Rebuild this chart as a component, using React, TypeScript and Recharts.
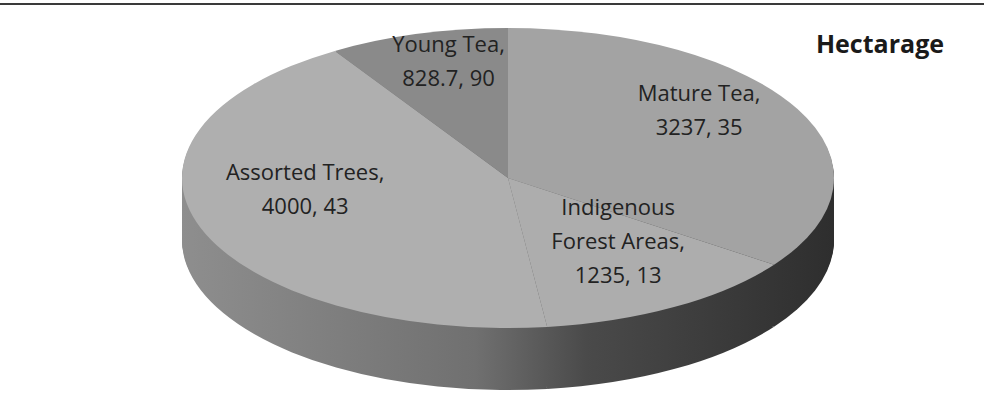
import React from 'react';
import { PieChart, Pie, Cell } from 'recharts';

// values
const categories = ['Mature Tea', 'Indigenous Forest Areas', 'Assorted Trees', 'Young Tea'];
const hectares = [3237, 1235, 4000, 828.7];
const percentText = ['35', '13', '43', '90'];
const topColors = ['#a3a3a3', '#adadad', '#afafaf', '#8a8a8a'];

const data = categories.map((name, i) => ({ name, value: hectares[i], pct: percentText[i] }));

// flattened 3D pie: draw a circle pie and squash it vertically
const S = 150 / 326;
const R = 326;
const CX = 508;
const CY = 178 / S;
const DEPTH = 62 / S;
const STEP = 3;
const layers: number[] = [];
for (let off = DEPTH; off > 0; off -= STEP) layers.push(off);

const RAD = Math.PI / 180;
const FONT = '"Open Sans", sans-serif';

function wrapName(name: string) {
  if (name.length > 15) {
    const i = name.indexOf(' ');
    return [name.slice(0, i), name.slice(i + 1) + ','];
  }
  return [name + ','];
}

const renderLabel = (p: any) => {
  const r = p.outerRadius * 0.66;
  const x = p.cx + r * Math.cos(-p.midAngle * RAD);
  const y = p.cy + r * Math.sin(-p.midAngle * RAD) - 22 / S;
  const d = data[p.index];
  const lines = [...wrapName(d.name), `${d.value}, ${d.pct}`];
  const lh = 34;
  const top = -((lines.length - 1) * lh) / 2;
  return (
    <g transform={`translate(${x},${y}) scale(1,${1 / S})`}>
      <text textAnchor="middle" fontSize={22} fill="#222" fontFamily={FONT}>
        {lines.map((l, i) => (
          <tspan key={i} x={0} y={top + i * lh} dy="0.35em">{l}</tspan>
        ))}
      </text>
    </g>
  );
};

export default function App() {
  return (
    <div style={{ position: 'absolute', left: 0, top: 0, width: 984, height: 404, background: '#fff', overflow: 'hidden' }}>
      <div style={{ position: 'absolute', left: 0, top: 3, width: 984, height: 2, background: '#3a3a3a' }} />
      <div style={{ position: 'absolute', left: 0, top: 0, width: 984, height: 880, transform: `scaleY(${S})`, transformOrigin: '0 0' }}>
        <PieChart width={984} height={880} margin={{ top: 0, right: 0, bottom: 0, left: 0 }}>
          <defs>
            <linearGradient id="side" gradientUnits="userSpaceOnUse" x1={CX - R} y1={0} x2={CX + R} y2={0}>
              <stop offset="0" stopColor="#8e8e8e" />
              <stop offset="0.45" stopColor="#707070" />
              <stop offset="0.62" stopColor="#4a4a4a" />
              <stop offset="1" stopColor="#2e2e2e" />
            </linearGradient>
          </defs>
          {layers.map((off) => (
            <Pie
              key={off}
              data={data}
              dataKey="value"
              cx={CX}
              cy={CY + off}
              outerRadius={R}
              startAngle={90}
              endAngle={-270}
              stroke="none"
              fill="url(#side)"
              isAnimationActive={false}
            />
          ))}
          <Pie
            data={data}
            dataKey="value"
            cx={CX}
            cy={CY}
            outerRadius={R}
            startAngle={90}
            endAngle={-270}
            stroke="none"
            label={renderLabel}
            labelLine={false}
            isAnimationActive={false}
          >
            {data.map((d, i) => (
              <Cell key={d.name} fill={topColors[i]} stroke="none" />
            ))}
          </Pie>
        </PieChart>
      </div>
      <div style={{ position: 'absolute', left: 780, top: 26, width: 200, textAlign: 'center', fontFamily: FONT, fontWeight: 700, fontSize: 25, color: '#1a1a1a' }}>
        Hectarage
      </div>
    </div>
  );
}
